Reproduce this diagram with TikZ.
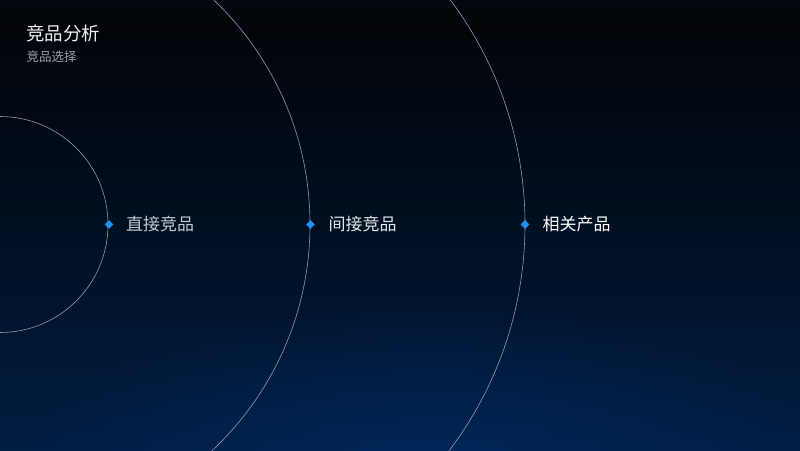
\documentclass[tikz,border=0pt]{standalone}
\usepackage{fontspec}
\setmainfont{Noto Sans CJK SC}
\usetikzlibrary{shapes.geometric,fadings}
\definecolor{bgA}{HTML}{0D1826}
\definecolor{bgB}{HTML}{020409}
\definecolor{bgC}{HTML}{010F22}
\definecolor{bgD}{HTML}{011D42}
\definecolor{bgE}{HTML}{022B5E}
\definecolor{glow}{HTML}{03347A}
\definecolor{ringc}{HTML}{8E9CAC}
\definecolor{dotc}{HTML}{1E8FF2}
\definecolor{titlec}{HTML}{EEF0F2}
\definecolor{subc}{HTML}{9CA2AA}
\definecolor{labA}{HTML}{C4C9D0}
\definecolor{labB}{HTML}{E2E6EA}
\definecolor{labC}{HTML}{FFFFFF}
\pgfdeclareverticalshading{bgshade}{100bp}{color(0bp)=(bgE); color(25bp)=(bgD); color(50bp)=(bgC); color(72bp)=(bgB); color(100bp)=(bgA)}
\tikzfading[name=glowfade, inner color=transparent!0, outer color=transparent!100]
\tikzset{
  ring/.style={draw=ringc, line width=0.6pt},
  dot/.style={diamond, fill=dotc, inner sep=0pt, minimum size=9pt},
  lab/.style={anchor=west, inner sep=0pt, font=\fontsize{17}{20}\selectfont},
}
\begin{document}
\begin{tikzpicture}[x=1pt,y=-1pt]
\useasboundingbox (0,0) rectangle (800,450);
\shade[shading=bgshade] (0,0) rectangle (800,450);
\begin{scope}
\clip (0,0) rectangle (800,450);
\fill[glow, path fading=glowfade, opacity=0.45] (430,470) ellipse (420 and 170);
\draw[ring] (0,224.5) circle (108);
\draw[ring] (0,224.5) circle (310);
\draw[ring] (150,224.5) circle (375);
\end{scope}
\node[anchor=west, inner sep=0pt, text=titlec, font=\fontsize{18.5}{22}\selectfont] (title) at (26,33) {竞品分析};
\node[anchor=west, inner sep=0pt, text=subc, font=\fontsize{12.5}{15}\selectfont] (sub) at (26.5,57) {竞品选择};
\node[dot] (d1) at (109,224.5) {};
\node[dot] (d2) at (310.5,224.5) {};
\node[dot] (d3) at (525,224.5) {};
\node[lab, text=labA] (l1) at ([xshift=17pt]d1.center) {直接竞品};
\node[lab, text=labB] (l2) at ([xshift=18pt]d2.center) {间接竞品};
\node[lab, text=labC] (l3) at ([xshift=17.5pt]d3.center) {相关产品};
\end{tikzpicture}
\end{document}
